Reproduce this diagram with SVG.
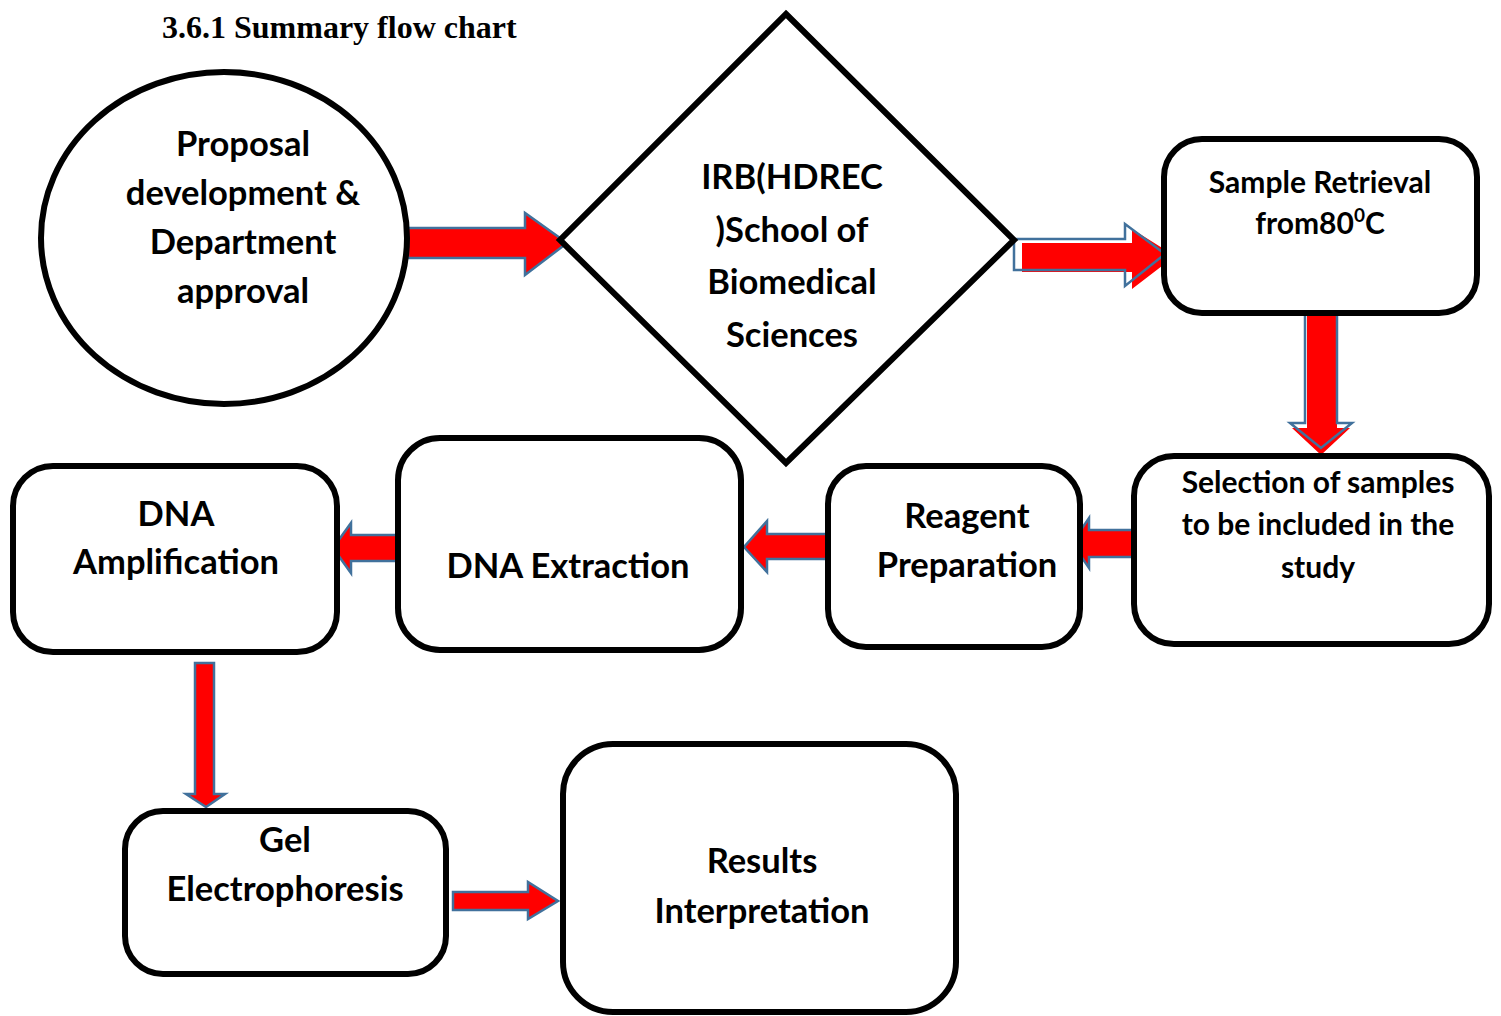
<svg xmlns="http://www.w3.org/2000/svg" width="1501" height="1016" viewBox="0 0 1501 1016">
<defs>
<style>
.node{fill:#fff;stroke:#000;stroke-width:6}
.t{font-family:Lato,"Open Sans","Liberation Sans",sans-serif;font-weight:bold;fill:#000;text-anchor:middle}
.t32{font-size:34.5px}
.t28{font-size:30px}
.red{fill:#ff0000;stroke:none}
.redo{fill:#ff0000;stroke:#41719c;stroke-width:2.5;stroke-linejoin:miter}
.out{fill:none;stroke:#41719c;stroke-width:2.5}
.title{font-family:"Liberation Serif","Times New Roman",serif;font-weight:bold;font-size:32px;fill:#000}
</style>
</defs>
<rect width="1501" height="1016" fill="#fff"/>
<text class="title" x="162" y="38">3.6.1 Summary flow chart</text>

<g id="connectors">
<polygon class="redo" points="408,228 525,228 525,213 567,243 525,275 525,258 408,258"/>
<polygon class="red" points="1022,243 1132,243 1132,229 1175,256 1132,289 1132,272 1022,272"/>
<polygon class="out" points="1014,239 1125,239 1125,224 1165,254 1125,286 1125,270 1014,270"/>
<polygon class="red" points="1307,313 1337,313 1337,428 1350,428 1321,455 1292,428 1307,428"/>
<polygon class="out" points="1305,313 1337,313 1337,423 1352,423 1321,448 1290,423 1305,423"/>
<polygon class="redo" points="1134,530 1089,530 1089,518 1072,543 1089,568 1089,557 1134,557"/>
<polygon class="redo" points="827,534 767,534 767,521 744,547 767,572 767,559 827,559"/>
<polygon class="redo" points="398,535 351,535 351,523 333,548 351,573 351,561 398,561"/>
<polygon class="redo" points="195,663 214,663 214,794 225,794 206,807 186,794 195,794"/>
<polygon class="redo" points="453,892 528,892 528,882 558,901 528,919 528,910 453,910"/>
</g>

<g id="proposal">
<ellipse class="node" cx="224" cy="238" rx="183" ry="166"/>
<text class="t t32" x="243" y="156">Proposal</text>
<text class="t t32" x="243" y="205">development &amp;</text>
<text class="t t32" x="243" y="254">Department</text>
<text class="t t32" x="243" y="303">approval</text>
</g>

<g id="irb">
<polygon class="node" points="786,14 1014,240 786,463 560,240"/>
<text class="t t32" x="792" y="189">IRB(HDREC</text>
<text class="t t32" x="792" y="242">)School of</text>
<text class="t t32" x="792" y="294">Biomedical</text>
<text class="t t32" x="792" y="347">Sciences</text>
</g>

<g id="sample-retrieval">
<rect class="node" x="1164" y="139" width="313" height="174" rx="38"/>
<text class="t t28" x="1320" y="193">Sample Retrieval</text>
<text class="t t28" x="1320" y="234">from80<tspan font-size="19" dy="-12">0</tspan><tspan dy="12">C</tspan></text>
</g>

<g id="selection">
<rect class="node" x="1134" y="456" width="355" height="188" rx="40"/>
<text class="t t28" x="1318" y="493">Selection of samples</text>
<text class="t t28" x="1318" y="535">to be included in the</text>
<text class="t t28" x="1318" y="578">study</text>
</g>

<g id="reagent">
<rect class="node" x="828" y="466" width="252" height="181" rx="38"/>
<text class="t t32" x="967" y="528">Reagent</text>
<text class="t t32" x="967" y="577">Preparation</text>
</g>

<g id="dna-extraction">
<rect class="node" x="398" y="438" width="343" height="212" rx="42"/>
<text class="t t32" x="568" y="578" font-size="33.5">DNA Extraction</text>
</g>

<g id="dna-amplification">
<rect class="node" x="13" y="466" width="324" height="186" rx="40"/>
<text class="t t32" x="176" y="526">DNA</text>
<text class="t t32" x="176" y="574">Amplification</text>
</g>

<g id="gel">
<rect class="node" x="125" y="811" width="321" height="163" rx="38"/>
<text class="t t32" x="285" y="852">Gel</text>
<text class="t t32" x="285" y="901">Electrophoresis</text>
</g>

<g id="results">
<rect class="node" x="563" y="744" width="393" height="268" rx="50"/>
<text class="t t32" x="762" y="873">Results</text>
<text class="t t32" x="762" y="923">Interpretation</text>
</g>
</svg>
